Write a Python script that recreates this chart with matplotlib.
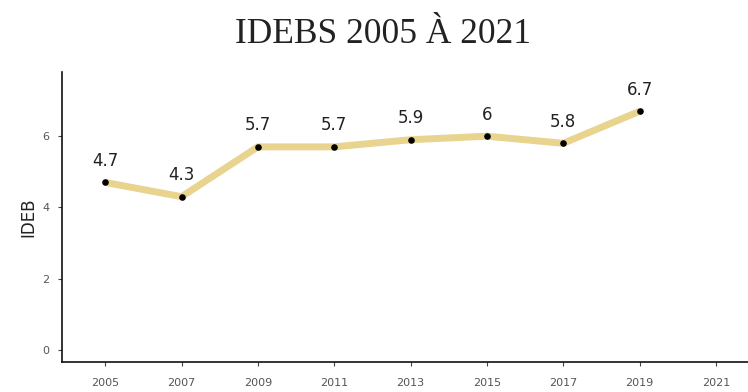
import matplotlib
matplotlib.use("Agg")
import matplotlib.pyplot as plt

years = [2005, 2007, 2009, 2011, 2013, 2015, 2017, 2019]
ideb = [4.7, 4.3, 5.7, 5.7, 5.9, 6, 5.8, 6.7]
labels = ["4.7", "4.3", "5.7", "5.7", "5.9", "6", "5.8", "6.7"]
xticks = [2005, 2007, 2009, 2011, 2013, 2015, 2017, 2019, 2021]
yticks = [0, 2, 4, 6]

fig = plt.figure(figsize=(7.48, 3.92), dpi=100)
ax = fig.add_axes([0.083, 0.077, 0.917, 0.739])

ax.plot(years, ideb, color="#E8D48E", linewidth=5, solid_capstyle="butt", zorder=2)
ax.scatter(years, ideb, color="black", s=14, zorder=3)
for x, y, t in zip(years, ideb, labels):
    ax.annotate(t, (x, y), xytext=(0, 9), textcoords="offset points",
                ha="center", va="bottom", fontsize=12, color="#222222")

ax.set_xlim(2003.87, 2021.84)
ax.set_ylim(-0.34, 7.8)
ax.set_xticks(xticks)
ax.set_xticklabels([str(v) for v in xticks])
ax.set_yticks(yticks)
ax.tick_params(axis="x", pad=9)
ax.tick_params(axis="y", pad=6)
ax.tick_params(axis="both", labelsize=8, colors="#444444", length=3, labelcolor="#555555")
for s in ["top", "right"]:
    ax.spines[s].set_visible(False)
for s in ["left", "bottom"]:
    ax.spines[s].set_linewidth(1.2)
    ax.spines[s].set_color("#111111")
ax.set_ylabel("IDEB", fontsize=12, color="#222222", labelpad=4)

fig.suptitle("IDEBS 2005 À 2021", x=0.512, y=0.955, fontsize=25.5,
             family="Liberation Serif", color="#222222")

fig.savefig("out.png", dpi=100)
